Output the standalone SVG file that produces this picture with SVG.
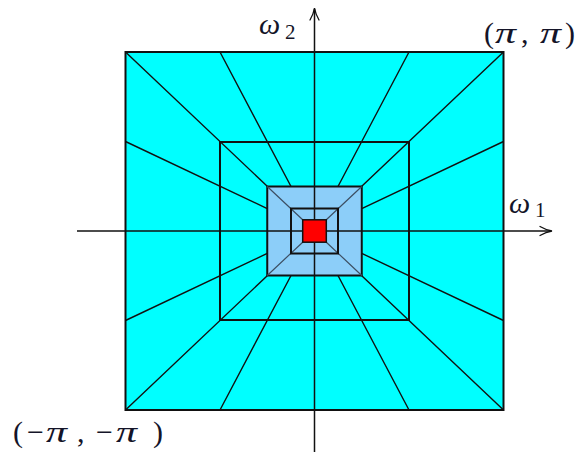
<svg xmlns="http://www.w3.org/2000/svg" width="576" height="455" viewBox="0 0 576 455">
<style>
.sq{stroke:#111;stroke-width:2;}
.ray{stroke:#111;stroke-width:1.4;fill:none;}
.diag{stroke:#3d4f63;stroke-width:1.2;fill:none;}
.axis{stroke:#111;stroke-width:1.5;fill:none;}
.head{stroke:#111;stroke-width:1.3;fill:none;stroke-linecap:round;}
.lbl{font-family:"Liberation Serif","DejaVu Serif",serif;fill:#141428;font-size:30px;}
.it{font-style:italic;}
.sub{font-size:21px;}
</style>
<g id="outer">
<rect class="sq" x="125.5" y="52" width="378" height="358" fill="#00FFFF"/>
</g>
<g id="middle">
<rect class="sq" x="220" y="142" width="189" height="178" fill="none"/>
</g>
<g id="connectors">
<path class="ray" d="M125.5,52L267.25,186.25M503.5,52L361.75,186.25M125.5,410L267.25,275.75M503.5,410L361.75,275.75M220,52L290.9,186.25M409,52L338.1,186.25M220,410L290.9,275.75M409,410L338.1,275.75M125.5,141.5L267.25,208.6M125.5,320.5L267.25,253.4M503.5,141.5L361.75,208.6M503.5,320.5L361.75,253.4"/>
</g>
<g id="lightblue">
<rect class="sq" x="267.25" y="186.5" width="94.5" height="89" fill="#8CCEF9"/>
<path class="diag" d="M267.25,186.5L302.7,219.8M361.75,186.5L326.3,219.8M267.25,275.5L302.7,242.2M361.75,275.5L326.3,242.2"/>
</g>
<g id="inner">
<rect class="sq" x="291" y="208.5" width="47" height="45" fill="none"/>
</g>
<g id="axes">
<line class="axis" x1="77" y1="231" x2="551" y2="231"/>
<path class="head" d="M540,226.5Q546,230 552,231Q546,232 540,235.5"/>
<line class="axis" x1="314.5" y1="452" x2="314.5" y2="9"/>
<path class="head" d="M310,20Q313.5,14 314.5,8Q315.5,14 319,20"/>
</g>
<g id="red">
<rect x="302.7" y="219.8" width="23.6" height="22.4" fill="#FF0000" stroke="#111" stroke-width="1.5"/>
</g>
<g id="label-w2">
<text class="lbl it" x="259" y="34">ω</text>
<text class="lbl sub" x="285" y="39">2</text>
</g>
<g id="label-w1">
<text class="lbl it" x="509" y="213">ω</text>
<text class="lbl sub" x="535" y="217">1</text>
</g>
<g id="label-pp">
<text class="lbl" x="484" y="43">(</text>
<text class="lbl it" transform="translate(495,43) scale(1.4,1)">π</text>
<text class="lbl" x="521" y="43">,</text>
<text class="lbl it" transform="translate(540,43) scale(1.4,1)">π</text>
<text class="lbl" x="565" y="43">)</text>
</g>
<g id="label-mm">
<text class="lbl" x="13" y="442">(</text>
<text class="lbl" x="27" y="442">−</text>
<text class="lbl it" transform="translate(46,442) scale(1.4,1)">π</text>
<text class="lbl" x="77" y="442">,</text>
<text class="lbl" x="96" y="442">−</text>
<text class="lbl it" transform="translate(116,442) scale(1.4,1)">π</text>
<text class="lbl" x="153" y="442">)</text>
</g>
</svg>
